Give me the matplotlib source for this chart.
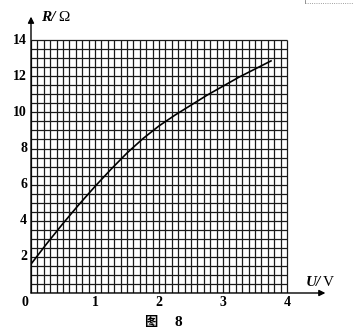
import numpy as np
import matplotlib
import matplotlib.pyplot as plt

matplotlib.use('agg')

# values
u = [0.0, 0.25, 0.5, 0.75, 1.0, 1.25, 1.5, 1.75, 2.0, 2.25, 2.5,
     2.75, 3.0, 3.25, 3.5, 3.75]
r = [1.6, 2.75, 3.85, 4.9, 5.9, 6.85, 7.75, 8.55, 9.25, 9.85, 10.4,
     10.95, 11.45, 11.95, 12.4, 12.85]

x_ticks = [1, 2, 3, 4]
y_ticks = [2, 4, 6, 8, 10, 12, 14]

fig = plt.figure(figsize=(3.53, 3.35), dpi=100)
ax = fig.add_axes([31 / 353, 42 / 335, 320 / 353, 289 / 335])
ax.set_xlim(0, 5.0)
ax.set_ylim(0, 16.0)
ax.axis('off')

# graph paper
gx = np.arange(0, 4.0001, 0.1)
gy = np.arange(0, 14.0001, 0.5)
ax.vlines(gx, 0, 14, color='0.1', lw=0.9)
ax.hlines(gy, 0, 4, color='0.1', lw=0.9)

# axes with arrows
ax.annotate('', xy=(0, 15.3), xytext=(0, 0),
            arrowprops=dict(arrowstyle='-|>', color='black', lw=1.0,
                            mutation_scale=9, shrinkA=0, shrinkB=0))
ax.annotate('', xy=(4.6, 0), xytext=(0, 0),
            arrowprops=dict(arrowstyle='-|>', color='black', lw=1.0,
                            mutation_scale=9, shrinkA=0, shrinkB=0))

ax.plot(u, r, color='black', lw=1.2)

font = dict(family='Liberation Serif', weight='bold', size=10)
for v in y_ticks:
    ax.text(-0.06, v, str(v), ha='right', va='center', **font)
for v in x_ticks:
    ax.text(v, -0.55, str(v), ha='center', va='center', **font)
ax.text(-0.1, -0.55, '0', ha='center', va='center', **font)

ax.text(0.16, 15.27, 'R/', ha='left', va='center', style='italic',
        family='Liberation Serif', weight='bold', size=11)
ax.text(0.43, 15.27, 'Ω', ha='left', va='center',
        family='Liberation Serif', size=11)
ax.text(4.30, 0.6, 'U/', ha='left', va='center', style='italic',
        family='Liberation Serif', weight='bold', size=11)
ax.text(4.56, 0.6, 'V', ha='left', va='center',
        family='Liberation Serif', size=11)

fig.text(151 / 353, 1 - 322 / 335, '图', ha='center', va='center',
         family=['Noto Sans CJK SC', 'DejaVu Sans'], weight='bold', size=9.5)
fig.text(178 / 353, 1 - 322 / 335, '8', ha='center', va='center',
         family='Liberation Serif', weight='bold', size=11)

# stray box edge at the top right of the scan
fig.add_artist(plt.Line2D([305 / 353, 1.0], [1 - 3 / 335, 1 - 3 / 335],
                          color='0.5', lw=0.6, ls=':'))
fig.add_artist(plt.Line2D([305 / 353, 305 / 353], [1.0, 1 - 3 / 335],
                          color='0.5', lw=0.6))

fig.savefig('out.png', dpi=100)
